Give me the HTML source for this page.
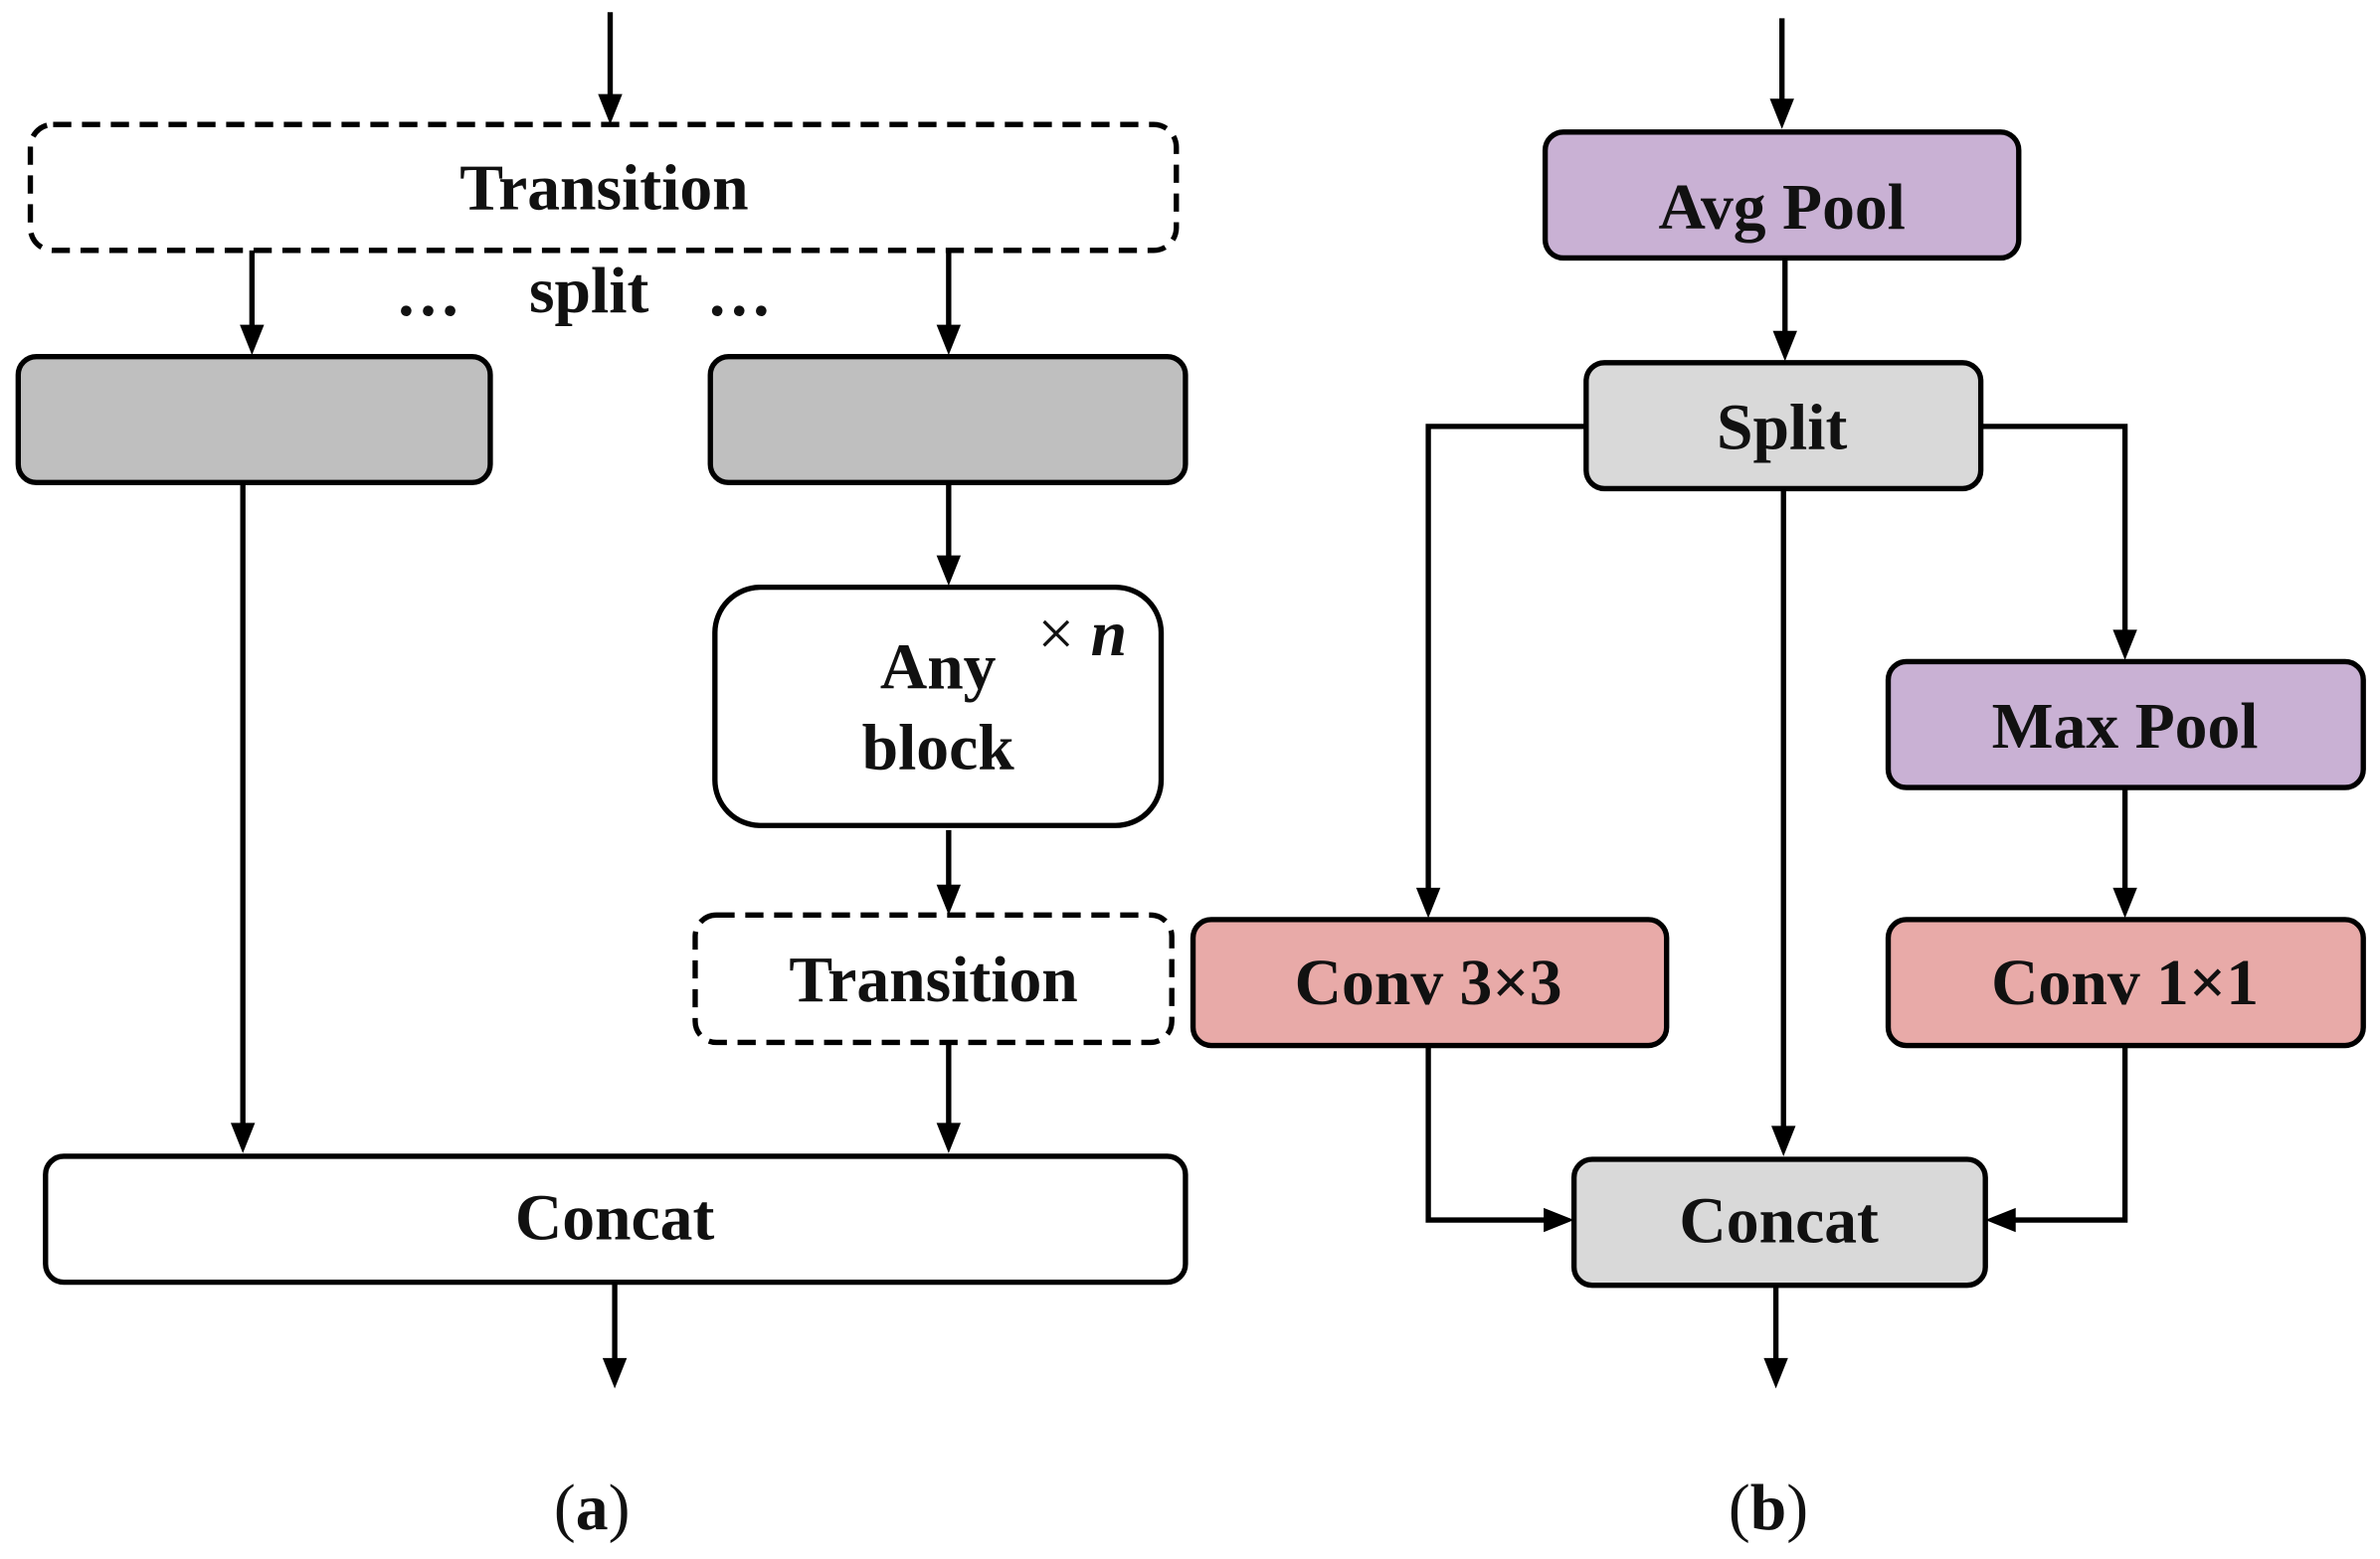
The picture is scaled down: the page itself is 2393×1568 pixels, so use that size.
<!DOCTYPE html>
<html><head><meta charset="utf-8"><style>
html,body{margin:0;padding:0;background:#fff;}
svg{display:block;}
text{font-family:"Liberation Serif",serif;font-weight:bold;fill:#111;text-anchor:middle;dominant-baseline:central;}
</style></head><body>
<svg width="2393" height="1568" viewBox="0 0 1568 1027.4" xmlns="http://www.w3.org/2000/svg">
<g stroke="#000" stroke-width="3.5" fill="none">
<!-- (a) -->
<line x1="402" y1="8" x2="402" y2="64"/>
<rect x="20" y="82" width="755" height="83" rx="15" stroke-dasharray="12,7"/>
<line x1="166" y1="165" x2="166" y2="216"/>
<line x1="625" y1="165" x2="625" y2="216"/>
<rect x="12" y="235" width="311" height="83" rx="12" fill="#bfbfbf"/>
<rect x="468" y="235" width="313" height="83" rx="12" fill="#bfbfbf"/>
<line x1="160" y1="318" x2="160" y2="742"/>
<line x1="625" y1="318" x2="625" y2="368"/>
<rect x="471" y="387" width="294" height="157" rx="30" fill="#fff"/>
<line x1="625" y1="547" x2="625" y2="585"/>
<rect x="458" y="603" width="314" height="84" rx="14" stroke-dasharray="12,7"/>
<line x1="625" y1="687" x2="625" y2="742"/>
<rect x="30" y="762" width="751" height="83" rx="12" fill="#fff"/>
<line x1="405" y1="845" x2="405" y2="897"/>
<!-- (b) -->
<line x1="1174" y1="12" x2="1174" y2="67"/>
<rect x="1018" y="87" width="312" height="83" rx="12" fill="#c9b1d4"/>
<line x1="1176" y1="170" x2="1176" y2="220"/>
<rect x="1045" y="239" width="260" height="83" rx="12" fill="#d9d9d9"/>
<polyline points="1045,281 941,281 941,587"/>
<polyline points="1305,281 1400,281 1400,417"/>
<line x1="1175" y1="322" x2="1175" y2="744"/>
<rect x="1244" y="436" width="313" height="83" rx="12" fill="#c9b1d4"/>
<line x1="1400" y1="519" x2="1400" y2="587"/>
<rect x="786" y="606" width="312" height="83" rx="12" fill="#e8aaa8"/>
<rect x="1244" y="606" width="313" height="83" rx="12" fill="#e8aaa8"/>
<polyline points="941,689 941,804 1019,804"/>
<polyline points="1400,689 1400,804 1326,804"/>
<rect x="1037" y="764" width="271" height="83" rx="12" fill="#d9d9d9"/>
<line x1="1170" y1="847" x2="1170" y2="897"/>
</g>
<g fill="#000">
<polygon points="394,62 410,62 402,82"/>
<polygon points="158,214 174,214 166,234"/>
<polygon points="617,214 633,214 625,234"/>
<polygon points="152,740 168,740 160,760"/>
<polygon points="617,366 633,366 625,386"/>
<polygon points="617,583 633,583 625,603"/>
<polygon points="617,740 633,740 625,760"/>
<polygon points="397,895 413,895 405,915"/>
<polygon points="1166,65 1182,65 1174,85"/>
<polygon points="1168,218 1184,218 1176,238"/>
<polygon points="933,585 949,585 941,605"/>
<polygon points="1392,415 1408,415 1400,435"/>
<polygon points="1167,742 1183,742 1175,762"/>
<polygon points="1392,585 1408,585 1400,605"/>
<polygon points="1017,796 1017,812 1037,804"/>
<polygon points="1328,796 1328,812 1308,804"/>
<polygon points="1162,895 1178,895 1170,915"/>
</g>
<g font-size="43">
<text x="398" y="124">Transition</text>
<text x="282" y="194">…</text>
<text x="388" y="192">split</text>
<text x="487" y="194">…</text>
<text x="618" y="440">Any</text>
<text x="618" y="493">block</text>
<text x="713" y="418" style="font-weight:normal">× <tspan font-style="italic" font-weight="bold">n</tspan></text>
<text x="615" y="646">Transition</text>
<text x="405" y="803">Concat</text>
<text x="1174" y="137">Avg  Pool</text>
<text x="1174" y="282">Split</text>
<text x="1400" y="479">Max Pool</text>
<text x="941" y="648">Conv 3×3</text>
<text x="1400" y="648">Conv 1×1</text>
<text x="1172" y="805">Concat</text>
<text x="390" y="994" style="font-weight:normal">(<tspan font-weight="bold">a</tspan>)</text>
<text x="1165" y="994" style="font-weight:normal">(<tspan font-weight="bold">b</tspan>)</text>
</g>
</svg>
</body></html>
